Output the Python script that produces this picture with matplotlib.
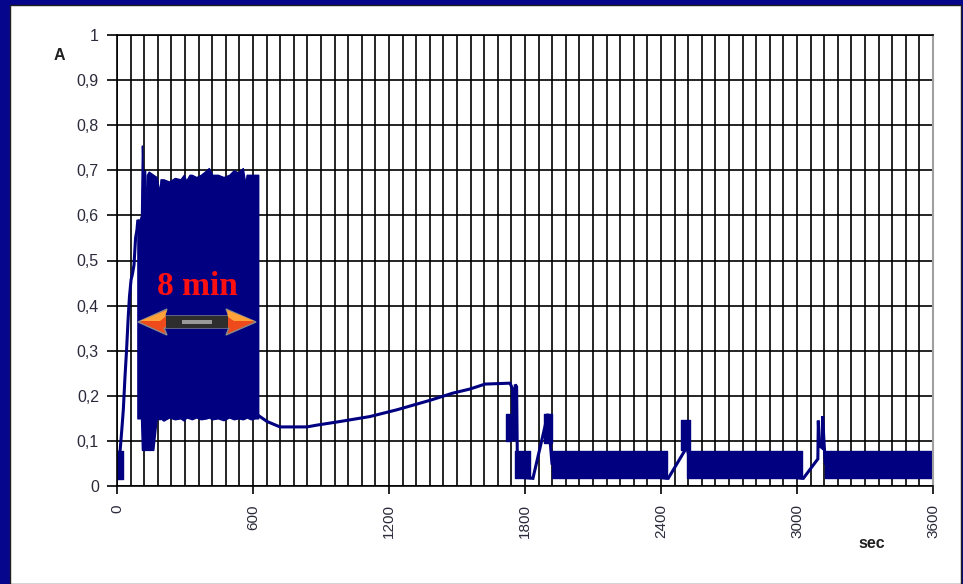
import matplotlib
matplotlib.use('Agg')
import matplotlib.pyplot as plt
from matplotlib.patches import Rectangle, Polygon

# Current trace (sec, A) - the slow parts of the signal
trace_t = [0, 14, 22, 28, 35, 42, 49, 55, 62, 68, 75, 82, 88, 92,
           600, 622, 662, 719, 838, 882, 984, 1116, 1235, 1381, 1482, 1557, 1624,
           1734, 1745, 1747, 1753, 1757, 1763, 1767, 1835, 1901, 1919,
           2426, 2432, 2515, 2528, 3022, 3028, 3092, 3094, 3098, 3110, 3113, 3120, 3125, 3600]
trace_a = [0.05, 0.08, 0.13, 0.17, 0.24, 0.30, 0.37, 0.42, 0.457, 0.47, 0.49, 0.55, 0.568, 0.59,
           0.15, 0.157, 0.143, 0.131, 0.131, 0.135, 0.143, 0.154, 0.169, 0.19, 0.206, 0.215, 0.226,
           0.228, 0.215, 0.105, 0.10, 0.225, 0.22, 0.02, 0.017, 0.16, 0.05,
           0.017, 0.017, 0.087, 0.05, 0.017, 0.017, 0.06, 0.145, 0.09, 0.085, 0.155, 0.09, 0.05, 0.05]

# 8 min pulsing band: upper / lower envelope
band_t = [90, 100, 106, 110, 114, 124, 128, 132, 140, 160, 175, 188, 192, 205, 230, 255, 280,
          295, 305, 320, 330, 350, 370, 395, 405, 420, 445, 470, 495, 515, 535, 555, 566,
          572, 590, 610, 623]
band_hi = [0.59, 0.59, 0.60, 0.755, 0.69, 0.70, 0.55, 0.69, 0.697, 0.69, 0.685, 0.65, 0.68,
           0.68, 0.675, 0.683, 0.68, 0.69, 0.677, 0.69, 0.69, 0.685, 0.69, 0.70, 0.705, 0.69,
           0.69, 0.685, 0.69, 0.70, 0.695, 0.705, 0.67, 0.69, 0.69, 0.69, 0.69]
band_lo = [0.15, 0.15, 0.15, 0.08, 0.08, 0.08, 0.08, 0.08, 0.08, 0.08, 0.15, 0.148, 0.15,
           0.145, 0.152, 0.148, 0.15, 0.145, 0.152, 0.15, 0.148, 0.152, 0.148, 0.15, 0.152,
           0.148, 0.15, 0.146, 0.152, 0.148, 0.15, 0.148, 0.15, 0.152, 0.148, 0.15, 0.15]

# fast switching blocks (start, end, low, high)
blk_start = [0, 1716, 1756, 1884, 1919, 2488, 2515, 3123]
blk_end = [28, 1738, 1822, 1919, 2426, 2528, 3022, 3600]
blk_lo = [0.015, 0.10, 0.017, 0.095, 0.017, 0.08, 0.017, 0.017]
blk_hi = [0.077, 0.16, 0.078, 0.16, 0.078, 0.146, 0.077, 0.077]

y_ticks = [0, 0.1, 0.2, 0.3, 0.4, 0.5, 0.6, 0.7, 0.8, 0.9, 1.0]
y_labels = ['0', '0,1', '0,2', '0,3', '0,4', '0,5', '0,6', '0,7', '0,8', '0,9', '1']
x_ticks = [0, 600, 1200, 1800, 2400, 3000, 3600]

navy = '#000080'
txt = '#2a2a3a'
plt.rcParams['font.family'] = ['Liberation Sans', 'DejaVu Sans']

W, H = 963, 584
fig = plt.figure(figsize=(W / 100, H / 100), dpi=100)
fig.patch.set_facecolor('#06068c')
fig.add_artist(Rectangle((10 / W, 0), 951 / W, (H - 5) / H, transform=fig.transFigure,
                         facecolor='white', edgecolor='#202020', lw=1, zorder=-10))

ax = fig.add_axes([117 / W, 1 - 486 / H, 816 / W, 451 / H])
ax.set_facecolor('white')
ax.set_axisbelow(True)

ax.fill_between(band_t, band_lo, band_hi, color=navy, lw=1, edgecolor=navy)
for s, e, lo, hi in zip(blk_start, blk_end, blk_lo, blk_hi):
    ax.fill_between([s, e], [lo, lo], [hi, hi], color=navy, lw=1, edgecolor=navy)
ax.plot(trace_t, trace_a, color=navy, lw=2.2, solid_joinstyle='miter')

ax.set_xlim(0, 3600)
ax.set_ylim(0, 1)
ax.set_xticks(x_ticks)
ax.set_xticklabels([str(v) for v in x_ticks], rotation=90, fontsize=11, color=txt)
ax.set_xticks(range(0, 3601, 60), minor=True)
ax.set_yticks(y_ticks)
ax.set_yticklabels(y_labels, fontsize=11.5, color=txt)
ax.tick_params(axis='x', which='major', direction='out', length=6, width=1.2, pad=7)
ax.tick_params(axis='x', which='minor', length=0)
ax.tick_params(axis='y', direction='out', length=7, width=1.2, pad=6)

ax.grid(True, which='both', axis='x', color='black', lw=1.2)
ax.grid(True, which='major', axis='y', color='black', lw=1.2)
for side in ['left', 'bottom', 'top']:
    ax.spines[side].set_color('black')
    ax.spines[side].set_linewidth(1.2)
ax.spines['right'].set_color('#a0a0a0')
ax.spines['right'].set_linewidth(1.5)

fig.text(59.5 / W, 1 - 56 / H, 'A', fontsize=11.5, fontweight='bold', color='#202020',
         ha='center', va='center')
fig.text(872 / W, 1 - 543 / H, 'sec', fontsize=11.5, fontweight='bold', color='#202020',
         ha='center', va='center')

# "8 min" label with double arrow
ax.text(355, 0.4235, '8 min', fontsize=24, fontweight='bold', color='#ff1010',
        family=['Liberation Serif', 'DejaVu Serif'], ha='center', va='baseline', zorder=6)

def px(x, y):
    return (x / W, 1 - y / H)

yc = 322
arrow = [px(138, yc), px(167, yc - 13), px(164, yc - 6), px(229, yc - 6), px(226, yc - 13),
         px(256, yc), px(226, yc + 13), px(229, yc + 6), px(164, yc + 6), px(167, yc + 13)]
fig.add_artist(Polygon(arrow, closed=True, transform=fig.transFigure,
                       facecolor='#ee4a1c', edgecolor='#8a8a8a', lw=1, zorder=5))
top_l = [px(140, yc - 1), px(167, yc - 12), px(165, yc - 5), px(160, yc - 1)]
top_r = [px(254, yc - 1), px(227, yc - 12), px(228, yc - 5), px(234, yc - 1)]
for pts in (top_l, top_r):
    fig.add_artist(Polygon(pts, closed=True, transform=fig.transFigure,
                           facecolor='#ffa23a', edgecolor='none', zorder=5))
fig.add_artist(Rectangle(px(166, yc + 6), 62 / W, 12 / H, transform=fig.transFigure,
                         facecolor='#2e2e2e', edgecolor='none', zorder=5))
fig.add_artist(Rectangle(px(182, yc + 2), 30 / W, 4 / H, transform=fig.transFigure,
                         facecolor='#9a9a9a', edgecolor='none', zorder=5))

fig.savefig('out.png', dpi=100, facecolor=fig.get_facecolor())
